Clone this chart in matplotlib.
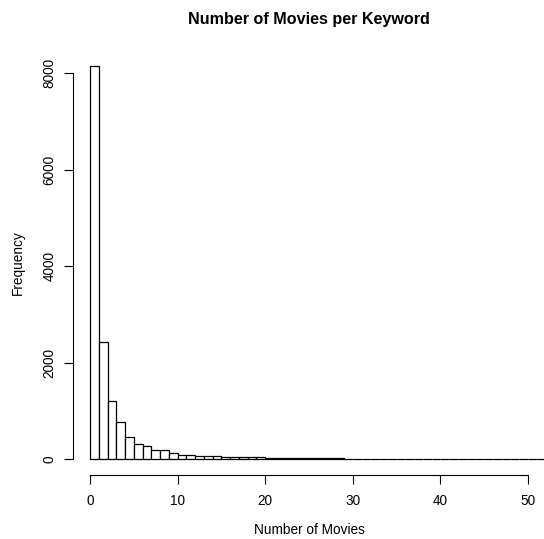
import matplotlib.pyplot as plt

plt.rcParams['font.family'] = ['Liberation Sans', 'DejaVu Sans']

# histogram counts per bin of width 1, starting at 0
bin_edges = list(range(0, 56))
counts = [8150, 2440, 1200, 765, 460, 325, 285, 200, 195, 135,
          95, 90, 78, 70, 60, 55, 50, 45, 40, 38,
          34, 30, 28, 26, 24, 22, 20, 18, 17, 16,
          15, 14, 13, 12, 12, 11, 10, 10, 9, 9,
          8, 8, 7, 7, 7, 6, 6, 6, 5, 5,
          5, 5, 4, 4, 4]

x_ticks = [0, 10, 20, 30, 40, 50]
y_ticks = [0, 2000, 4000, 6000, 8000]

fig = plt.figure(figsize=(5.44, 5.39), dpi=100)
ax = fig.add_axes([0.1333, 0.1187, 0.8695, 0.788])

ax.hist(bin_edges[:-1], bins=bin_edges, weights=counts,
        color='white', edgecolor='black', linewidth=0.9)

ax.set_xlim(-2, 52)
ax.set_ylim(-326, 8476)

ax.spines['top'].set_visible(False)
ax.spines['right'].set_visible(False)
ax.spines['left'].set_bounds(0, 8000)
ax.spines['bottom'].set_bounds(0, 50)
for s in ['left', 'bottom']:
    ax.spines[s].set_linewidth(0.8)

ax.set_xticks(x_ticks)
ax.set_yticks(y_ticks)
ax.set_yticklabels([str(v) for v in y_ticks], rotation=90, va='center')
ax.tick_params(axis='both', labelsize=9.8, length=6.5, width=0.8)
ax.tick_params(axis='y', pad=5)
ax.tick_params(axis='x', pad=7)

ax.set_title('Number of Movies per Keyword', fontsize=11.6, fontweight='bold', pad=19)
ax.set_xlabel('Number of Movies', fontsize=9.8, labelpad=11)
ax.set_ylabel('Frequency', fontsize=9.8, labelpad=13)

fig.savefig('out.png', dpi=100)
